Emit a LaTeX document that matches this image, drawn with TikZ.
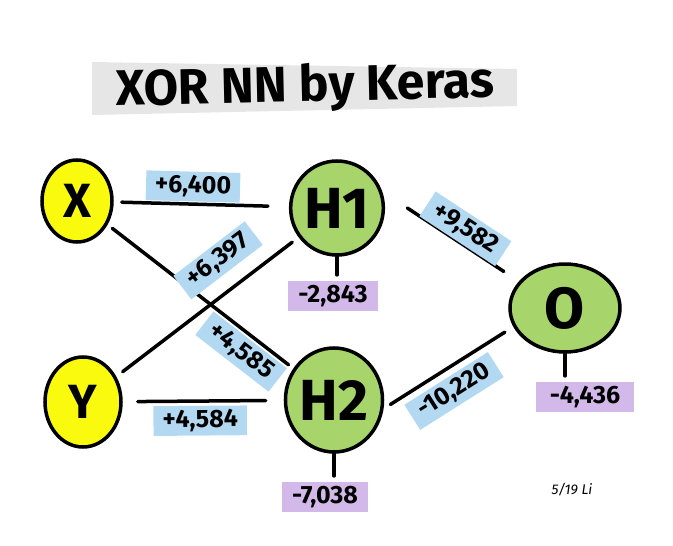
\documentclass[tikz,border=0pt]{standalone}
\usepackage{fontspec}
\setmainfont{Fira Sans}
\usetikzlibrary{shapes.geometric}
\definecolor{inyellow}{HTML}{FAFA0F}
\definecolor{neugreen}{HTML}{A8D46C}
\definecolor{wblue}{HTML}{B3D9F2}
\definecolor{bpurple}{HTML}{D2B9E9}
\definecolor{titlegray}{HTML}{E6E6E6}
\begin{document}
\begin{tikzpicture}[x=1pt,y=-1pt,
  neuron/.style={ellipse, draw=black, line width=3.5pt, inner sep=0pt, font=\fontsize{58}{60}\selectfont\bfseries},
  inp/.style={neuron, fill=inyellow, font=\fontsize{48}{50}\selectfont\bfseries},
  hid/.style={neuron, fill=neugreen},
  conn/.style={line width=3.5pt, line cap=round},
  wlab/.style={fill=wblue, font=\fontsize{25}{28}\selectfont\bfseries, inner xsep=9pt, inner ysep=4pt, sloped},
  blab/.style={fill=bpurple, font=\fontsize{25}{28}\selectfont\bfseries, inner xsep=10pt, inner ysep=4pt},
  stem/.style={line width=3.5pt, line cap=round, shorten >=6pt}]
\useasboundingbox (0,0) rectangle (673,546);
% title
\fill[titlegray] (92,62) -- (517,69) -- (517,106) -- (92,115) -- cycle;
\node[font=\fontsize{50}{54}\selectfont\bfseries, rotate=1.3] (title) at (305,88) {XOR NN by Keras};
% neurons
\node[inp, minimum width=70pt, minimum height=82pt] (x) at (77,201) {X};
\node[inp, minimum width=76pt, minimum height=90pt] (y) at (83,402) {Y};
\node[hid, minimum width=86pt, minimum height=94pt] (h1) at (337,208) {H1};
\node[hid, minimum width=84pt, minimum height=104pt] (h2) at (334,400) {H2};
\node[hid, minimum width=110pt, minimum height=88pt] (o) at (565,308) {O};
% biases
\node[blab] (b1) at (333,296) {-2,843};
\node[blab] (b2) at (325,497) {-7,038};
\node[blab, inner xsep=14pt] (b3) at (585,397) {-4,436};
\draw[stem] (h1.south) -- (h1.south |- b1.north);
\draw[stem] (h2.south) -- (h2.south |- b2.north);
\draw[stem] (o.south) -- (o.south |- b3.north);
% connections
\draw[conn, shorten <=8pt, shorten >=21pt] (x) -- (h1) node[wlab, above=1pt, pos=0.45] {+6,400};
\draw[conn, shorten <=6pt, shorten >=6pt] (x) -- (h2) node[wlab, below=2pt, pos=0.78] {+4,585};
\draw[conn, shorten <=8pt, shorten >=8pt] (y) -- (h1) node[wlab, above=14pt, pos=0.66] {+6,397};
\draw[conn, shorten <=15pt, shorten >=18pt] (y) -- (h2) node[wlab, below=3pt, pos=0.48] {+4,584};
\draw[conn, shorten <=30pt, shorten >=18pt] (h1.20) -- (o.150) node[wlab, above=-2pt, pos=0.55] {+9,582};
\draw[conn, shorten <=8pt, shorten >=10pt] (h2.-10) -- (o.200) node[wlab, below=6pt, pos=0.45] {-10,220};
% signature
\node[font=\fontsize{14}{16}\selectfont\itshape] (sig) at (572,490) {5/19 Li};
\end{tikzpicture}
\end{document}
